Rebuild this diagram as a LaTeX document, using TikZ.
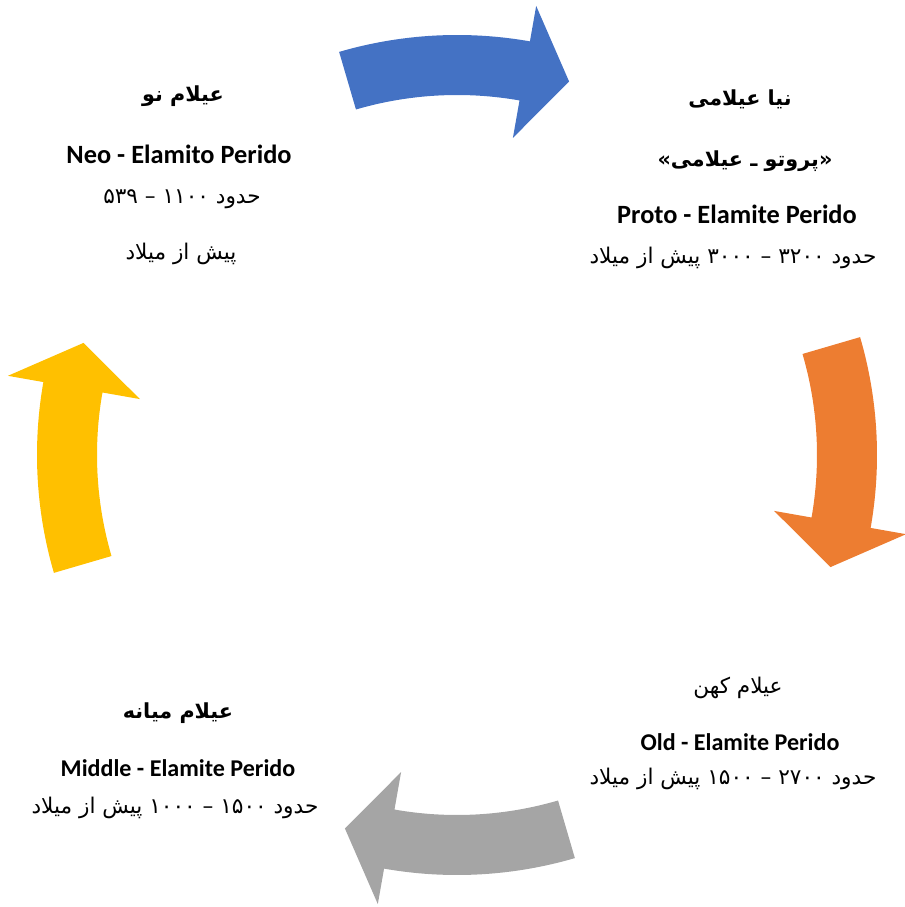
\documentclass[tikz,border=0pt]{standalone}
\usepackage{fontspec}
\setmainfont{Carlito}
\newfontfamily\fafont[Script=Arabic]{DejaVu Sans}
\TeXXeTstate=1
\usetikzlibrary{positioning}
\definecolor{arrBlue}{HTML}{4472C4}
\definecolor{arrOrange}{HTML}{ED7D31}
\definecolor{arrGrey}{HTML}{A5A5A5}
\definecolor{arrYellow}{HTML}{FFC000}

\begin{document}
\begin{tikzpicture}[x=0.02cm,y=0.02cm,
  faBold/.style={font=\fafont\bfseries\fontsize{11.8}{14}\selectfont},
  fa/.style={font=\fafont\fontsize{12.3}{15}\selectfont},
  enBold/.style={font=\bfseries\fontsize{15}{18}\selectfont},
  enSmall/.style={font=\bfseries\fontsize{13.7}{16}\selectfont}]
 \useasboundingbox (0,0) rectangle (905,907);
 \coordinate (ctr) at (457,452);
 % curved arrows round the cycle
 \foreach \a/\c in {90/arrBlue,0/arrOrange,-90/arrGrey,180/arrYellow}
  \fill[\c,shift={(ctr)}] (\a+16.3:420) arc[start angle=\a+16.3,end angle=\a-10,radius=420]
    -- (\a-10:456) -- (\a-16.7:390) -- (\a-10:322) -- (\a-10:360)
    arc[start angle=\a-10,end angle=\a+16.3,radius=360] -- cycle;
 % neo
 \node[faBold] (neoFa) at (183,811) {\beginR عیلام نو\endR};
 \node[enBold] (neoEn) at (179,753) {Neo - Elamito Perido};
 \node[fa] (neoDate) at (182,708) {\beginR حدود ۱۱۰۰ – ۵۳۹\endR};
 \node[fa] (neoBC) at (181,653) {\beginR پیش از میلاد\endR};
 % proto
 \node[faBold] (protoFa) at (740,808) {\beginR نیا عیلامی\endR};
 \node[faBold] (protoPar) at (745,746) {\beginR «پروتو ـ عیلامی»\endR};
 \node[enBold] (protoEn) at (737,693) {Proto - Elamite Perido};
 \node[fa] (protoDate) at (733,649) {\beginR حدود ۳۲۰۰ – ۳۰۰۰ پیش از میلاد\endR};
 % old
 \node[fa] (oldFa) at (738,219) {\beginR عیلام کهن\endR};
 \node[enSmall] (oldEn) at (740,165) {Old - Elamite Perido};
 \node[fa] (oldDate) at (733,128) {\beginR حدود ۲۷۰۰ – ۱۵۰۰ پیش از میلاد\endR};
 % middle
 \node[faBold] (midFa) at (178,194) {\beginR عیلام میانه\endR};
 \node[enSmall] (midEn) at (178,139) {Middle - Elamite Perido};
 \node[fa] (midDate) at (175,99) {\beginR حدود ۱۵۰۰ – ۱۰۰۰ پیش از میلاد\endR};
\end{tikzpicture}
\end{document}
